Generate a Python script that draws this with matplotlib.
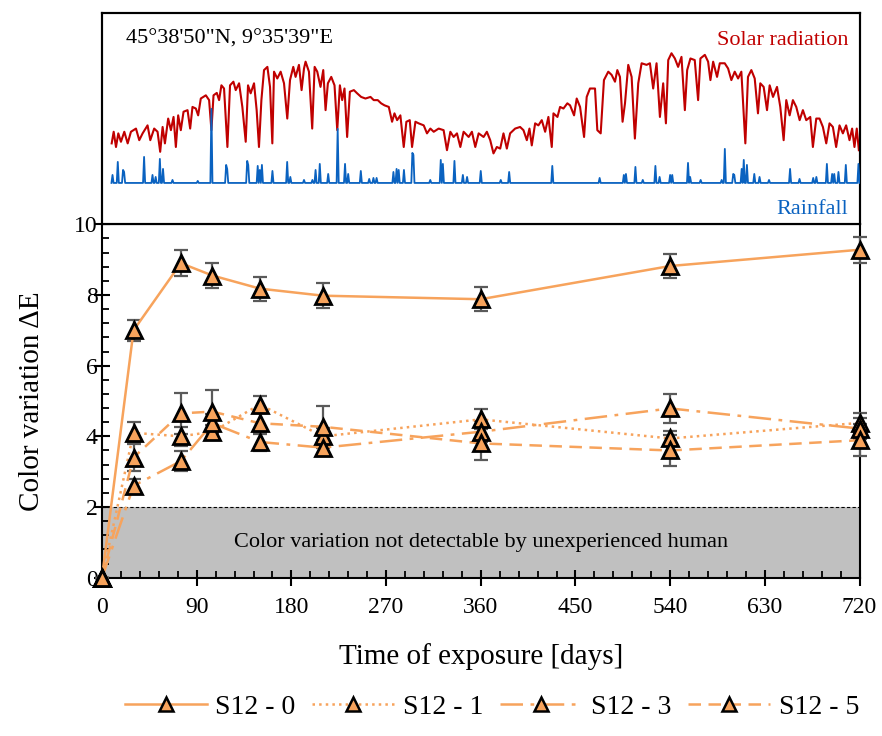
import numpy as np
import matplotlib
matplotlib.use("Agg")
import matplotlib.pyplot as plt
from matplotlib.lines import Line2D
from matplotlib.ticker import MultipleLocator

plt.rcParams['font.family'] = ['Liberation Serif', 'DejaVu Serif']
plt.rcParams['mathtext.fontset'] = 'stix'

# ---------------- colour-variation data ----------------
days = [0, 30, 75, 105, 150, 210, 360, 540, 720]
series_names = ["S12 - 0", "S12 - 1", "S12 - 3", "S12 - 5"]
s12_0 = [0, 7.0, 8.9, 8.55, 8.18, 7.98, 7.88, 8.82, 9.28]
s12_0_err = [0, 0.3, 0.36, 0.36, 0.34, 0.35, 0.34, 0.34, 0.37]
s12_1 = [0, 4.1, 4.0, 4.13, 4.9, 4.0, 4.48, 3.94, 4.38]
s12_1_err = [0, 0.3, 0.27, 0.2, 0.25, 0.25, 0.28, 0.2, 0.29]
s12_3 = [0, 2.6, 3.3, 4.37, 3.84, 3.68, 4.13, 4.79, 4.22]
s12_3_err = [0, 0.2, 0.28, 0.25, 0.25, 0.23, 0.3, 0.4, 0.3]
s12_5 = [0, 3.4, 4.65, 4.7, 4.37, 4.27, 3.8, 3.6, 3.89]
s12_5_err = [0, 0.38, 0.57, 0.6, 0.3, 0.6, 0.46, 0.44, 0.45]

# ---------------- weather data (top panel) ----------------
solar_days = [9.2, 11.1, 13.3, 15.5, 18.0, 21.2, 24.4, 27.5, 32.3, 35.4, 38.6, 43.3, 45.9, 49.6, 52.8, 55.3, 57.6, 59.8,
              62.9, 65.5, 68.0, 70.2, 72.4, 74.9, 77.5, 81.3, 83.8, 86.0, 89.2, 91.4, 93.9, 98.7, 101.8, 104.0, 106.0,
              109.1, 111.3, 113.5, 116.0, 119.2, 121.7, 124.9, 127.1, 130.3, 133.4, 136.6, 138.8, 141.3, 144.5, 147.0,
              149.2, 151.5, 154.0, 157.2, 159.7, 161.9, 163.5, 166.6, 169.8, 173.0, 176.1, 178.7, 181.8, 184.0, 187.2,
              189.7, 192.0, 193.5, 196.7, 199.8, 202.1, 204.6, 207.7, 210.3, 212.5, 214.7, 217.9, 221.0, 223.6, 226.1,
              228.3, 230.5, 233.0, 235.6, 239.4, 242.5, 246.3, 250.4, 255.2, 258.3, 262.1, 265.3, 268.5, 272.6, 275.7,
              278.0, 280.5, 283.6, 286.8, 289.3, 292.5, 294.7, 297.9, 301.0, 305.8, 308.9, 312.1, 315.3, 320.0, 324.7,
              327.9, 331.1, 334.2, 337.4, 340.6, 343.7, 348.5, 351.6, 354.8, 358.0,
              362.7, 365.8, 369.0, 372.1, 375.3, 378.5, 381.6, 384.8, 387.9, 392.7, 397.4, 400.6, 403.8, 406.3, 408.5,
              411.7, 414.8, 418.0, 421.2, 424.3, 427.5, 429.1, 432.9, 435.4, 438.6, 442.3, 444.9, 448.7, 451.2, 454.4,
              458.2, 460.7, 463.8, 468.6, 470.8, 474.0, 477.1, 481.2, 484.4, 487.6, 489.8, 492.3, 494.8, 497.1, 500.2,
              503.4, 506.5, 509.7, 512.9, 517.6, 520.8, 523.9, 527.1, 530.3, 533.4, 536.0, 538.2, 541.3, 544.5, 547.6,
              550.8, 554.0, 556.2, 559.3, 563.4, 566.6, 568.8, 573.0, 576.1, 578.3, 580.9, 584.6, 587.2, 591.9, 595.1,
              598.2, 601.4, 604.6, 607.7, 611.5, 614.0, 617.2, 620.4, 623.5, 625.7, 628.9, 632.1, 634.6, 637.8, 641.6,
              644.7, 647.9, 650.4, 653.6, 656.7, 659.9, 663.1, 666.2, 669.4, 673.2, 675.7, 678.9, 682.0, 685.2, 688.4,
              691.5, 694.7, 697.8, 701.0, 704.2, 707.3, 710.5, 713.0, 715.2, 717.4, 719.4]
solar_wm2 = [97, 126, 88, 122, 101, 126, 97, 126, 134, 105, 122, 142, 105, 134, 126, 76, 138, 97, 159, 130,
             163, 88, 167, 130, 176, 180, 134, 188, 184, 167, 209, 217, 205, 130, 217, 223, 205, 242, 234, 88,
             242, 251, 230, 247, 188, 101, 242, 222, 247, 180, 88, 205, 280, 288, 238, 97, 276, 259, 276, 247,
             159, 255, 288, 263, 293, 230, 284, 301, 276, 134, 288, 276, 238, 280, 180, 247, 263, 242, 130, 242,
             205, 234, 113, 226, 230, 222, 213, 209, 213, 205, 205, 197, 192, 188, 151, 172, 155, 167, 88, 151,
             155, 88, 151, 147, 142, 122, 134, 126, 134, 130, 80, 126, 113, 122, 88, 126, 113, 126, 88, 122,
             113, 126, 105, 72, 88, 84, 122, 84, 122, 134, 138, 130, 105, 134, 92, 147, 142, 155, 126, 163,
             88, 172, 163, 188, 184, 197, 192, 167, 209, 188, 113, 213, 234, 234, 130, 122, 255, 276, 268, 251,
             280, 263, 151, 197, 293, 263, 109, 247, 297, 293, 297, 234, 297, 163, 247, 147, 305, 322, 309, 288,
             313, 180, 280, 309, 305, 205, 309, 318, 301, 255, 301, 263, 297, 297, 284, 255, 276, 259, 276, 97,
             263, 280, 259, 172, 247, 238, 180, 242, 213, 238, 188, 105, 205, 167, 205, 188, 155, 180, 155, 163,
             88, 159, 159, 138, 97, 147, 138, 88, 142, 122, 142, 105, 134, 88, 134, 80]

rain_days = [10, 15, 20, 21, 40, 48, 51, 55, 58, 67, 91, 104, 118, 119, 138, 139, 148, 150, 152, 162, 176, 179,
             192, 200, 203, 207, 215, 224, 231, 234, 246, 254, 258, 261, 277, 280, 282, 287, 295, 296, 312, 322,
             324, 335, 343, 347, 360, 379, 387, 428, 473, 496, 498, 507, 514, 526, 530, 540, 542, 557, 559, 569,
             589, 592, 600, 601, 608, 610, 613, 620, 625, 634, 654, 663, 676, 679, 689, 694, 696, 700, 707, 719]
rain_mm = [8, 21, 13, 11, 26, 8, 6, 24, 14, 3, 2, 74, 18, 14, 22, 18, 17, 13, 18, 12, 21, 6,
           3, 3, 13, 19, 9, 54, 19, 9, 12, 4, 5, 5, 11, 14, 13, 13, 30, 28, 3, 23,
           19, 22, 8, 6, 12, 3, 11, 17, 5, 8, 9, 16, 3, 17, 6, 8, 8, 20, 6, 3,
           3, 34, 9, 8, 14, 23, 18, 9, 6, 3, 14, 4, 5, 6, 19, 9, 9, 11, 18, 19]

# ---------------- style ----------------
orange = '#F7A35C'
err_col = '#5A5A5A'
red = '#C00000'
blue = '#0A62C0'

W, H = 882, 736
fig = plt.figure(figsize=(W / 100, H / 100), dpi=100)

ax_l, ax_r = 102 / W, 859.5 / W
main_bot, main_top = 1 - 577.7 / H, 1 - 224.3 / H
top_top = 1 - 13 / H

ax = fig.add_axes([ax_l, main_bot, ax_r - ax_l, main_top - main_bot])
axt = fig.add_axes([ax_l, main_top, ax_r - ax_l, top_top - main_top])

# ---------------- top panel ----------------
axt.plot(solar_days, solar_wm2, color=red, lw=1.5, zorder=2)
axt.set_ylim(-105, 422.5)
axt.set_xlim(0, 720)
axr = axt.twinx()
rain_series = np.zeros(720 - 9 + 1)
rain_x = np.arange(9, 721)
for d, mm in zip(rain_days, rain_mm):
    rain_series[d - 9] = mm
axr.plot(rain_x, rain_series, color=blue, lw=1.3, zorder=3)
axr.set_ylim(-41.3, 169.7)
for a in (axt, axr):
    a.set_xticks([])
    a.set_yticks([])
    for s in a.spines.values():
        s.set_linewidth(1.5)
axt.text(0.032, 0.877, '45°38\'50"N, 9°35\'39"E', transform=axt.transAxes, fontsize=16,
         ha='left', va='center', color='black')
axt.text(0.985, 0.87, 'Solar radiation', transform=axt.transAxes, fontsize=16,
         ha='right', va='center', color=red)
axt.text(0.985, 0.07, 'Rainfall', transform=axt.transAxes, fontsize=16,
         ha='right', va='center', color=blue)

# ---------------- main panel ----------------
ax.axhspan(0, 2, color='#C0C0C0', zorder=0, lw=0)
ax.axhline(2, color='black', lw=0.8, ls=(0, (3, 2)), zorder=1)
ax.text(360, 1.0, 'Color variation not detectable by unexperienced human', fontsize=16,
        ha='center', va='center', zorder=2)

styles = ['-', ':', (0, (9, 3, 1.5, 3)), (0, (5, 3))]
all_vals = [s12_0, s12_1, s12_3, s12_5]
all_errs = [s12_0_err, s12_1_err, s12_3_err, s12_5_err]
handles = []
for name, vals, errs, ls in zip(series_names, all_vals, all_errs, styles):
    ax.errorbar(days, vals, yerr=errs, fmt='none', ecolor=err_col, elinewidth=1.6,
                capsize=5, capthick=1.6, zorder=3, clip_on=False)
    ax.plot(days, vals, color=orange, lw=1.8, ls=ls, zorder=4, clip_on=False)
    ax.plot(days, vals, ls='none', marker='^', ms=12, mfc=orange, mec='black', mew=2,
            zorder=5, clip_on=False)
    handles.append(Line2D([0], [0], color=orange, lw=1.8, ls=ls, marker='^', ms=10,
                          mfc=orange, mec='black', mew=1.8))

ax.set_xlim(0, 720)
ax.set_ylim(0, 10)
ax.xaxis.set_major_locator(MultipleLocator(90))
ax.xaxis.set_minor_locator(MultipleLocator(18))
ax.yaxis.set_major_locator(MultipleLocator(2))
ax.yaxis.set_minor_locator(MultipleLocator(0.4))
ax.tick_params(which='major', direction='inout', length=12, width=1.5, labelsize=17)
ax.tick_params(which='minor', direction='in', length=5, width=1.3)
ax.tick_params(axis='x', which='major', pad=8)
ax.tick_params(axis='y', which='major', pad=-3)
for s in ax.spines.values():
    s.set_linewidth(1.5)

fig.text(32 / W, 1 - 401 / H, 'Color variation ΔE', rotation=90, ha='center', va='center', fontsize=21)
fig.text(481 / W, 1 - 657 / H, 'Time of exposure [days]', ha='center', va='center', fontsize=21)

fig.legend(handles, series_names, loc='center', bbox_to_anchor=(492 / W, 1 - 707 / H), ncol=4,
           frameon=False, fontsize=20, handlelength=2.95, handletextpad=0.32, columnspacing=0.6,
           numpoints=1)

fig.savefig('out.png', dpi=100)
